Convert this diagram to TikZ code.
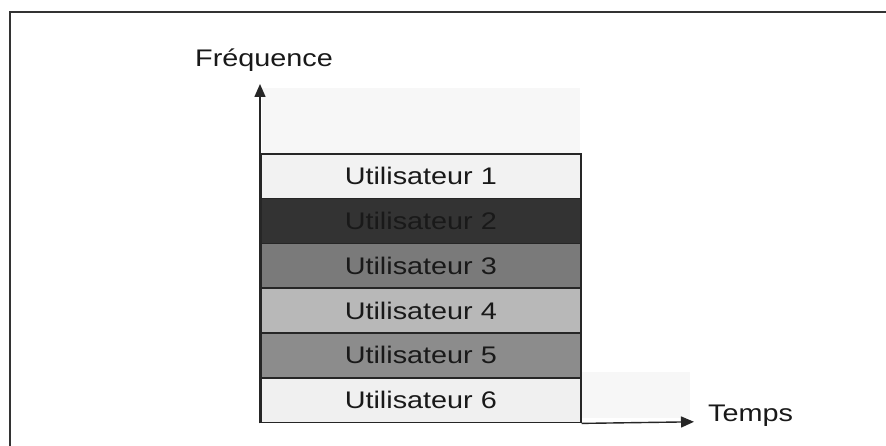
\documentclass[tikz,border=0pt]{standalone}
\usepackage{fontspec}
\setmainfont{Liberation Sans}
\usetikzlibrary{arrows.meta}
\definecolor{frameC}{gray}{0.2}
\definecolor{u1}{gray}{0.95}
\definecolor{u2}{gray}{0.2}
\definecolor{u3}{gray}{0.48}
\definecolor{u4}{gray}{0.72}
\definecolor{u5}{gray}{0.55}
\definecolor{u6}{gray}{0.94}
\newcommand{\lbl}[1]{\scalebox{1.2}[1]{#1}}
\tikzset{
  band/.style={draw=black!85, line width=1.6pt, minimum width=320pt, minimum height=44.8pt,
    inner sep=0pt, anchor=north west, font=\fontsize{24}{27}\selectfont, text=black!90},
  axis/.style={draw=black!85, line width=1.4pt, -{Triangle[length=13pt,width=11pt]}},
  axlabel/.style={font=\fontsize{24}{27}\selectfont, text=black!90, inner sep=0pt}
}
\begin{document}
\begin{tikzpicture}[x=1pt,y=-1pt]
\useasboundingbox (0,0) rectangle (886,446);
\fill[white] (0,0) rectangle (886,446);
\fill[gray!6] (262,88) rectangle (580,153);
\fill[gray!6] (580,372) rectangle (690,418);
\draw[frameC, line width=1.8pt] (10,446) -- (10,12) -- (886,12);
\node[band, fill=u1] (b1) at (260,153.0) {\lbl{Utilisateur 1}};
\node[band, fill=u2] (b2) at (260,197.8) {\lbl{Utilisateur 2}};
\node[band, fill=u3] (b3) at (260,242.6) {\lbl{Utilisateur 3}};
\node[band, fill=u4] (b4) at (260,287.4) {\lbl{Utilisateur 4}};
\node[band, fill=u5] (b5) at (260,332.2) {\lbl{Utilisateur 5}};
\node[band, fill=u6] (b6) at (260,377.0) {\lbl{Utilisateur 6}};
\coordinate (o) at (b6.south west);
\coordinate (ytop) at (260,84);
\coordinate (xend) at (694,421.8);
\draw[axis] (o) -- (ytop);
\draw[axis] (b6.south east) -- (xend);
\node[axlabel] (freq) at (264,60) {\lbl{Fréquence}};
\node[axlabel, anchor=west] (temps) at (708,416) {\lbl{Temps}};
\end{tikzpicture}
\end{document}
